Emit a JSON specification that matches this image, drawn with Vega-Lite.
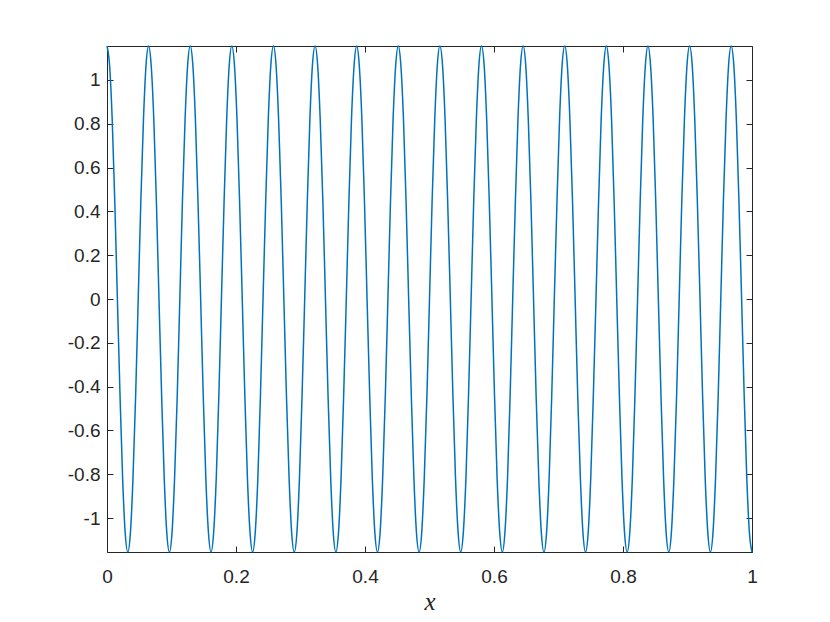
{
  "$schema": "https://vega.github.io/schema/vega-lite/v6.json",
  "width": 645,
  "height": 506,
  "autosize": {"type": "none"},
  "padding": {"left": 107, "top": 46, "right": 78, "bottom": 70},
  "background": "white",
  "config": {
    "view": {"stroke": null},
    "axis": {
      "grid": false,
      "domainColor": "#262626",
      "domainWidth": 1,
      "tickColor": "#262626",
      "tickSize": -6,
      "tickWidth": 1,
      "labelColor": "#262626",
      "labelFont": "Liberation Sans",
      "labelFontSize": 19,
      "labelFlush": false
    }
  },
  "data": {"values": [
    {"x":0,"y":1.155},{"x":0.0040,"y":1.0671},{"x":0.0081,"y":0.8167},{"x":0.0121,"y":0.442},{"x":0.0161,"y":0},{"x":0.0202,"y":-0.442},{"x":0.0242,"y":-0.8167},{"x":0.0282,"y":-1.0671},
    {"x":0.0323,"y":-1.155},{"x":0.0363,"y":-1.0671},{"x":0.0403,"y":-0.8167},{"x":0.0444,"y":-0.442},{"x":0.0484,"y":0},{"x":0.0524,"y":0.442},{"x":0.0565,"y":0.8167},{"x":0.0605,"y":1.0671},
    {"x":0.0645,"y":1.155},{"x":0.0685,"y":1.0671},{"x":0.0726,"y":0.8167},{"x":0.0766,"y":0.442},{"x":0.0806,"y":0},{"x":0.0847,"y":-0.442},{"x":0.0887,"y":-0.8167},{"x":0.0927,"y":-1.0671},
    {"x":0.0968,"y":-1.155},{"x":0.1008,"y":-1.0671},{"x":0.1048,"y":-0.8167},{"x":0.1089,"y":-0.442},{"x":0.1129,"y":0},{"x":0.1169,"y":0.442},{"x":0.1210,"y":0.8167},{"x":0.1250,"y":1.0671},
    {"x":0.1290,"y":1.155},{"x":0.1331,"y":1.0671},{"x":0.1371,"y":0.8167},{"x":0.1411,"y":0.442},{"x":0.1452,"y":0},{"x":0.1492,"y":-0.442},{"x":0.1532,"y":-0.8167},{"x":0.1573,"y":-1.0671},
    {"x":0.1613,"y":-1.155},{"x":0.1653,"y":-1.0671},{"x":0.1694,"y":-0.8167},{"x":0.1734,"y":-0.442},{"x":0.1774,"y":0},{"x":0.1815,"y":0.442},{"x":0.1855,"y":0.8167},{"x":0.1895,"y":1.0671},
    {"x":0.1935,"y":1.155},{"x":0.1976,"y":1.0671},{"x":0.2016,"y":0.8167},{"x":0.2056,"y":0.442},{"x":0.2097,"y":0},{"x":0.2137,"y":-0.442},{"x":0.2177,"y":-0.8167},{"x":0.2218,"y":-1.0671},
    {"x":0.2258,"y":-1.155},{"x":0.2298,"y":-1.0671},{"x":0.2339,"y":-0.8167},{"x":0.2379,"y":-0.442},{"x":0.2419,"y":0},{"x":0.2460,"y":0.442},{"x":0.2500,"y":0.8167},{"x":0.2540,"y":1.0671},
    {"x":0.2581,"y":1.155},{"x":0.2621,"y":1.0671},{"x":0.2661,"y":0.8167},{"x":0.2702,"y":0.442},{"x":0.2742,"y":0},{"x":0.2782,"y":-0.442},{"x":0.2823,"y":-0.8167},{"x":0.2863,"y":-1.0671},
    {"x":0.2903,"y":-1.155},{"x":0.2944,"y":-1.0671},{"x":0.2984,"y":-0.8167},{"x":0.3024,"y":-0.442},{"x":0.3065,"y":0},{"x":0.3105,"y":0.442},{"x":0.3145,"y":0.8167},{"x":0.3185,"y":1.0671},
    {"x":0.3226,"y":1.155},{"x":0.3266,"y":1.0671},{"x":0.3306,"y":0.8167},{"x":0.3347,"y":0.442},{"x":0.3387,"y":0},{"x":0.3427,"y":-0.442},{"x":0.3468,"y":-0.8167},{"x":0.3508,"y":-1.0671},
    {"x":0.3548,"y":-1.155},{"x":0.3589,"y":-1.0671},{"x":0.3629,"y":-0.8167},{"x":0.3669,"y":-0.442},{"x":0.3710,"y":0},{"x":0.3750,"y":0.442},{"x":0.3790,"y":0.8167},{"x":0.3831,"y":1.0671},
    {"x":0.3871,"y":1.155},{"x":0.3911,"y":1.0671},{"x":0.3952,"y":0.8167},{"x":0.3992,"y":0.442},{"x":0.4032,"y":0},{"x":0.4073,"y":-0.442},{"x":0.4113,"y":-0.8167},{"x":0.4153,"y":-1.0671},
    {"x":0.4194,"y":-1.155},{"x":0.4234,"y":-1.0671},{"x":0.4274,"y":-0.8167},{"x":0.4315,"y":-0.442},{"x":0.4355,"y":0},{"x":0.4395,"y":0.442},{"x":0.4435,"y":0.8167},{"x":0.4476,"y":1.0671},
    {"x":0.4516,"y":1.155},{"x":0.4556,"y":1.0671},{"x":0.4597,"y":0.8167},{"x":0.4637,"y":0.442},{"x":0.4677,"y":0},{"x":0.4718,"y":-0.442},{"x":0.4758,"y":-0.8167},{"x":0.4798,"y":-1.0671},
    {"x":0.4839,"y":-1.155},{"x":0.4879,"y":-1.0671},{"x":0.4919,"y":-0.8167},{"x":0.4960,"y":-0.442},{"x":0.5000,"y":0},{"x":0.5040,"y":0.442},{"x":0.5081,"y":0.8167},{"x":0.5121,"y":1.0671},
    {"x":0.5161,"y":1.155},{"x":0.5202,"y":1.0671},{"x":0.5242,"y":0.8167},{"x":0.5282,"y":0.442},{"x":0.5323,"y":0},{"x":0.5363,"y":-0.442},{"x":0.5403,"y":-0.8167},{"x":0.5444,"y":-1.0671},
    {"x":0.5484,"y":-1.155},{"x":0.5524,"y":-1.0671},{"x":0.5565,"y":-0.8167},{"x":0.5605,"y":-0.442},{"x":0.5645,"y":0},{"x":0.5685,"y":0.442},{"x":0.5726,"y":0.8167},{"x":0.5766,"y":1.0671},
    {"x":0.5806,"y":1.155},{"x":0.5847,"y":1.0671},{"x":0.5887,"y":0.8167},{"x":0.5927,"y":0.442},{"x":0.5968,"y":0},{"x":0.6008,"y":-0.442},{"x":0.6048,"y":-0.8167},{"x":0.6089,"y":-1.0671},
    {"x":0.6129,"y":-1.155},{"x":0.6169,"y":-1.0671},{"x":0.6210,"y":-0.8167},{"x":0.6250,"y":-0.442},{"x":0.6290,"y":0},{"x":0.6331,"y":0.442},{"x":0.6371,"y":0.8167},{"x":0.6411,"y":1.0671},
    {"x":0.6452,"y":1.155},{"x":0.6492,"y":1.0671},{"x":0.6532,"y":0.8167},{"x":0.6573,"y":0.442},{"x":0.6613,"y":0},{"x":0.6653,"y":-0.442},{"x":0.6694,"y":-0.8167},{"x":0.6734,"y":-1.0671},
    {"x":0.6774,"y":-1.155},{"x":0.6815,"y":-1.0671},{"x":0.6855,"y":-0.8167},{"x":0.6895,"y":-0.442},{"x":0.6935,"y":0},{"x":0.6976,"y":0.442},{"x":0.7016,"y":0.8167},{"x":0.7056,"y":1.0671},
    {"x":0.7097,"y":1.155},{"x":0.7137,"y":1.0671},{"x":0.7177,"y":0.8167},{"x":0.7218,"y":0.442},{"x":0.7258,"y":0},{"x":0.7298,"y":-0.442},{"x":0.7339,"y":-0.8167},{"x":0.7379,"y":-1.0671},
    {"x":0.7419,"y":-1.155},{"x":0.7460,"y":-1.0671},{"x":0.7500,"y":-0.8167},{"x":0.7540,"y":-0.442},{"x":0.7581,"y":0},{"x":0.7621,"y":0.442},{"x":0.7661,"y":0.8167},{"x":0.7702,"y":1.0671},
    {"x":0.7742,"y":1.155},{"x":0.7782,"y":1.0671},{"x":0.7823,"y":0.8167},{"x":0.7863,"y":0.442},{"x":0.7903,"y":0},{"x":0.7944,"y":-0.442},{"x":0.7984,"y":-0.8167},{"x":0.8024,"y":-1.0671},
    {"x":0.8065,"y":-1.155},{"x":0.8105,"y":-1.0671},{"x":0.8145,"y":-0.8167},{"x":0.8185,"y":-0.442},{"x":0.8226,"y":0},{"x":0.8266,"y":0.442},{"x":0.8306,"y":0.8167},{"x":0.8347,"y":1.0671},
    {"x":0.8387,"y":1.155},{"x":0.8427,"y":1.0671},{"x":0.8468,"y":0.8167},{"x":0.8508,"y":0.442},{"x":0.8548,"y":0},{"x":0.8589,"y":-0.442},{"x":0.8629,"y":-0.8167},{"x":0.8669,"y":-1.0671},
    {"x":0.8710,"y":-1.155},{"x":0.8750,"y":-1.0671},{"x":0.8790,"y":-0.8167},{"x":0.8831,"y":-0.442},{"x":0.8871,"y":0},{"x":0.8911,"y":0.442},{"x":0.8952,"y":0.8167},{"x":0.8992,"y":1.0671},
    {"x":0.9032,"y":1.155},{"x":0.9073,"y":1.0671},{"x":0.9113,"y":0.8167},{"x":0.9153,"y":0.442},{"x":0.9194,"y":0},{"x":0.9234,"y":-0.442},{"x":0.9274,"y":-0.8167},{"x":0.9315,"y":-1.0671},
    {"x":0.9355,"y":-1.155},{"x":0.9395,"y":-1.0671},{"x":0.9435,"y":-0.8167},{"x":0.9476,"y":-0.442},{"x":0.9516,"y":0},{"x":0.9556,"y":0.442},{"x":0.9597,"y":0.8167},{"x":0.9637,"y":1.0671},
    {"x":0.9677,"y":1.155},{"x":0.9718,"y":1.0671},{"x":0.9758,"y":0.8167},{"x":0.9798,"y":0.442},{"x":0.9839,"y":0},{"x":0.9879,"y":-0.442},{"x":0.9919,"y":-0.8167},{"x":0.9960,"y":-1.0671},
    {"x":1,"y":-1.155}
  ]},
  "layer": [
    {
      "mark": {"type": "line", "color": "#0072BD", "strokeWidth": 1.5, "interpolate": "monotone", "clip": false},
      "encoding": {
        "x": {"field": "x", "type": "quantitative",
              "scale": {"domain": [0, 1], "nice": false, "zero": false},
              "axis": {"orient": "bottom", "values": [0, 0.2, 0.4, 0.6, 0.8, 1], "format": "~g",
                       "labelPadding": 21, "title": "x", "titleFont": "Liberation Serif",
                       "titleFontStyle": "italic", "titleFontWeight": "normal", "titleFontSize": 25,
                       "titleColor": "#262626", "titlePadding": 3}},
        "y": {"field": "y", "type": "quantitative",
              "scale": {"domain": [-1.155, 1.155], "nice": false, "zero": false},
              "axis": {"orient": "left", "values": [-1, -0.8, -0.6, -0.4, -0.2, 0, 0.2, 0.4, 0.6, 0.8, 1],
                       "labelExpr": "replace(format(datum.value, '~g'), '\u2212', '-')",
                       "labelPadding": 13, "title": null}}
      }
    },
    {
      "mark": {"type": "line", "strokeOpacity": 0, "interpolate": "monotone"},
      "encoding": {
        "x": {"field": "x", "type": "quantitative",
              "axis": {"orient": "top", "values": [0, 0.2, 0.4, 0.6, 0.8, 1], "labels": false, "title": null}},
        "y": {"field": "y", "type": "quantitative",
              "axis": {"orient": "right", "values": [-1, -0.8, -0.6, -0.4, -0.2, 0, 0.2, 0.4, 0.6, 0.8, 1], "labels": false, "title": null}}
      }
    }
  ],
  "resolve": {"axis": {"x": "independent", "y": "independent"}}
}
